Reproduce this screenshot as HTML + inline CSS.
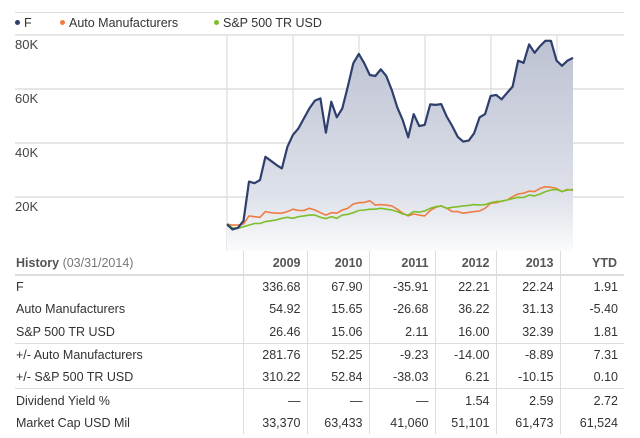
<!DOCTYPE html>
<html><head><meta charset="utf-8"><style>
body{margin:0;width:640px;height:438px;background:#fff;font-family:"Liberation Sans",sans-serif;overflow:hidden;position:relative}
.lg{position:absolute;top:16px;font-size:12.5px;color:#333}
.dot{display:inline-block;width:5px;height:5px;border-radius:50%;margin-right:4px;vertical-align:2px}
table{position:absolute;left:15px;top:251px;width:609px;border-collapse:collapse;table-layout:fixed;font-size:12.5px;color:#333}
td{height:22.3px;padding:0 6px 0 0;text-align:right;border-left:1px solid #ddd;white-space:nowrap}
td:first-child{text-align:left;border-left:none;padding-left:1px}
tr.h td{font-weight:bold;color:#555;height:23px;border-bottom:2px solid #ddd}
tr.sep td{border-bottom:1px solid #ddd}
</style></head><body>
<div>
<div style="position:absolute;left:15px;top:12px;width:609px;border-top:1px solid #ddd"></div>
<span class="lg" style="left:15px"><span class="dot" style="background:#2e3f6e"></span>F</span>
<span class="lg" style="left:60px"><span class="dot" style="background:#f07c45"></span>Auto Manufacturers</span>
<span class="lg" style="left:214px"><span class="dot" style="background:#7dbf2a"></span>S&amp;P 500 TR USD</span>
</div>
<svg id="chart" width="640" height="252" style="position:absolute;left:0;top:0">
<defs><linearGradient id="g" x1="0" y1="0" x2="0" y2="1"><stop offset="0" stop-color="#bdc2d3"/><stop offset="0.75" stop-color="#dfe2ea"/><stop offset="1" stop-color="#fafbfc"/></linearGradient></defs>
</svg>
<table>
<colgroup><col style="width:228px"><col style="width:64px"><col style="width:62px"><col style="width:66px"><col style="width:61px"><col style="width:64px"><col style="width:64px"></colgroup>
<tr class="h"><td><b>History</b> <span style="font-weight:normal;color:#777">(03/31/2014)</span></td><td>2009</td><td>2010</td><td>2011</td><td>2012</td><td>2013</td><td style="padding-right:7px">YTD</td></tr>
<tr><td>F</td><td>336.68</td><td>67.90</td><td>-35.91</td><td>22.21</td><td>22.24</td><td>1.91</td></tr>
<tr><td>Auto Manufacturers</td><td>54.92</td><td>15.65</td><td>-26.68</td><td>36.22</td><td>31.13</td><td>-5.40</td></tr>
<tr class="sep"><td>S&amp;P 500 TR USD</td><td>26.46</td><td>15.06</td><td>2.11</td><td>16.00</td><td>32.39</td><td>1.81</td></tr>
<tr><td>+/- Auto Manufacturers</td><td>281.76</td><td>52.25</td><td>-9.23</td><td>-14.00</td><td>-8.89</td><td>7.31</td></tr>
<tr class="sep"><td>+/- S&amp;P 500 TR USD</td><td>310.22</td><td>52.84</td><td>-38.03</td><td>6.21</td><td>-10.15</td><td>0.10</td></tr>
<tr><td>Dividend Yield %</td><td>—</td><td>—</td><td>—</td><td>1.54</td><td>2.59</td><td>2.72</td></tr>
<tr><td>Market Cap USD Mil</td><td>33,370</td><td>63,433</td><td>41,060</td><td>51,101</td><td>61,473</td><td>61,524</td></tr>
</table>
<script>
const yTicks=[20,40,60,80];
const yLabels=["20K","40K","60K","80K"];
const fVals=[9.9,8.0,8.6,11.2,25.7,25.1,26.3,34.9,33.4,31.9,30.6,38.6,43.0,45.4,49.1,52.8,55.7,56.5,43.8,55.3,49.5,52.8,60.9,69.5,73.0,69.5,65.2,64.8,67.3,64.8,59.6,53.2,48.5,42.1,50.7,46.3,46.7,54.3,54.1,54.4,49.8,46.3,42.3,40.5,40.9,43.6,49.5,50.7,57.4,57.8,56.2,58.6,60.9,70.5,69.7,76.5,73.4,75.9,77.9,77.8,70.5,68.6,70.5,71.5];
const autoVals=[10.0,9.6,9.6,10.0,13.0,12.7,12.5,14.6,14.2,14.0,14.0,14.6,15.5,15.0,15.0,15.8,15.2,14.2,13.3,14.2,14.0,15.2,15.8,17.4,17.9,18.0,18.6,17.0,17.2,17.0,16.7,15.5,14.0,13.0,13.7,13.3,13.0,15.0,16.2,16.7,15.8,14.6,14.6,14.0,14.3,14.6,14.8,15.8,17.7,17.9,18.5,18.9,20.1,21.1,21.4,22.2,22.0,23.2,23.8,23.6,23.2,22.0,22.8,22.4];
const spVals=[10.0,8.6,8.4,9.0,9.6,10.2,10.2,10.9,11.2,11.5,12.1,12.5,12.1,12.7,13.0,13.3,13.3,12.5,12.0,12.7,12.1,13.3,13.6,14.2,15.0,15.2,15.5,15.5,15.8,15.5,15.2,14.6,13.7,13.3,14.6,14.4,14.8,15.8,16.4,16.7,15.8,16.2,16.4,16.7,16.9,17.2,17.0,17.2,17.9,18.3,18.4,18.9,19.4,19.9,19.8,20.7,20.4,21.1,22.0,22.6,22.8,22.0,22.6,22.8];
const years=[2009,2010,2011,2012,2013,2014];
const svg=document.getElementById('chart');const NS='http://www.w3.org/2000/svg';
const x0=227,x1=573,yZero=251,pxPerK=2.7,yearW=66;
const yS=v=>yZero-v*pxPerK;
const xS=(i,n)=>x0+(x1-x0)*i/(n-1);
function mk(t,a){const e=document.createElementNS(NS,t);for(const k in a)e.setAttribute(k,a[k]);svg.appendChild(e);return e;}
yTicks.forEach((t,i)=>{
 const l=mk('line',{x1:15,x2:624,y1:yS(t),y2:yS(t),stroke:'#ddd','stroke-width':1.5});
 
 
 const tx=mk('text',{x:15,y:yS(t)+14,'font-size':13,fill:'#444','font-family':'Liberation Sans, sans-serif'});
 tx.textContent=yLabels[i];
 
 
});
years.forEach((y,i)=>{
 const x=x0+i*yearW;
 const l=mk('line',{x1:x,x2:x,y1:yS(80),y2:yZero,stroke:'#ddd','stroke-width':1.2});
 
 
});
const pts=a=>a.map((v,i)=>xS(i,a.length).toFixed(1)+','+yS(v).toFixed(1)).join(' ');
const area=mk('polygon',{points:x0+','+yZero+' '+pts(fVals)+' '+x1+','+yZero,fill:'url(#g)'});


[[autoVals,'#f07c45','auto-line'],[spVals,'#7dbf2a','sp500-line'],[fVals,'#2e3f6e','f-line']].forEach(([a,c,n])=>{
 const p=mk('polyline',{points:pts(a),fill:'none',stroke:c,'stroke-width':n=='f-line'?2.2:1.6,'stroke-linejoin':'round'});
 
 
});
</script>
</body></html>
